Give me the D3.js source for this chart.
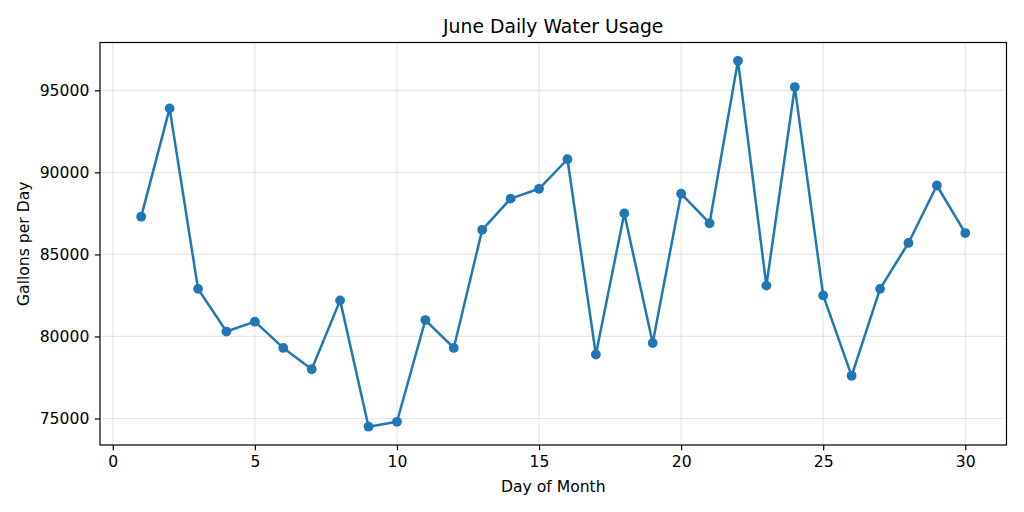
<!DOCTYPE html>
<html>
<head>
<meta charset="utf-8">
<script src="https://cdn.jsdelivr.net/npm/d3@7"></script>
<style>
    html, body { margin: 0; padding: 0; background: #fff; }
    svg { display: block; font-family: "DejaVu Sans", sans-serif; }
    .tick text { fill: #000; }
</style>
</head>
<body>
<svg id="chart" width="1024" height="512"></svg>
<script>
// chart data
var days = [1, 2, 3, 4, 5, 6, 7, 8, 9, 10, 11, 12, 13, 14, 15,
            16, 17, 18, 19, 20, 21, 22, 23, 24, 25, 26, 27, 28, 29, 30];
var gallons = [87300, 93900, 82900, 80300, 80900, 79300, 78000, 82200, 74500, 74800,
               81000, 79300, 86500, 88400, 89000, 90800, 78900, 87500, 79600, 88700,
               86900, 96800, 83100, 95200, 82500, 77600, 82900, 85700, 89200, 86300];
var xTicks = [0, 5, 10, 15, 20, 25, 30];
var yTicks = [75000, 80000, 85000, 90000, 95000];

var title = 'June Daily Water Usage',
    xLabel = 'Day of Month',
    yLabel = 'Gallons per Day';

(function () {

    var margin = { left: 100, right: 1024 - 1006.5, top: 42.5, bottom: 512 - 445 },
        width = 1024 - margin.left - margin.right,
        height = 512 - margin.top - margin.bottom,
        color = '#1f77b4',
        tickFont = '15.6px';

    // matplotlib-like 5% padding around the data
    function padded(values) {
        var ext = d3.extent(values),
            pad = (ext[1] - ext[0]) * 0.05;
        return [ext[0] - pad, ext[1] + pad];
    }

    var x = d3.scaleLinear().domain(padded(days)).range([0, width]),
        y = d3.scaleLinear().domain(padded(gallons)).range([height, 0]);

    var $svg = d3.select('#chart'),
        $plot = $svg.append('g')
            .attr('transform', 'translate(' + margin.left + ',' + margin.top + ')');

    // grid
    var $grid = $plot.append('g').classed('grid', true);
    $grid.selectAll('line.gx')
        .data(xTicks)
        .enter()
        .append('line')
        .attr('x1', function (d) { return x(d); })
        .attr('x2', function (d) { return x(d); })
        .attr('y1', 0)
        .attr('y2', height)
        .attr('stroke', '#b0b0b0')
        .attr('stroke-opacity', 0.3)
        .attr('stroke-width', 1.2);
    $grid.selectAll('line.gy')
        .data(yTicks)
        .enter()
        .append('line')
        .attr('x1', 0)
        .attr('x2', width)
        .attr('y1', function (d) { return y(d); })
        .attr('y2', function (d) { return y(d); })
        .attr('stroke', '#b0b0b0')
        .attr('stroke-opacity', 0.3)
        .attr('stroke-width', 1.2);

    // series
    var line = d3.line()
        .x(function (d, i) { return x(days[i]); })
        .y(function (d) { return y(d); });

    $plot.append('path')
        .datum(gallons)
        .attr('d', line)
        .attr('fill', 'none')
        .attr('stroke', color)
        .attr('stroke-width', 2.5)
        .attr('stroke-linejoin', 'round')
        .attr('stroke-linecap', 'round');

    $plot.selectAll('circle.point')
        .data(gallons)
        .enter()
        .append('circle')
        .classed('point', true)
        .attr('cx', function (d, i) { return x(days[i]); })
        .attr('cy', function (d) { return y(d); })
        .attr('r', 4.9)
        .attr('fill', color);

    // axes
    var $xAxis = $plot.append('g')
        .attr('transform', 'translate(0,' + height + ')')
        .call(d3.axisBottom(x).tickValues(xTicks).tickSize(5.2).tickPadding(6).tickFormat(d3.format('d')));
    var $yAxis = $plot.append('g')
        .call(d3.axisLeft(y).tickValues(yTicks).tickSize(5.2).tickPadding(5.5).tickFormat(d3.format('d')));

    [$xAxis, $yAxis].forEach(function ($axis) {
        $axis.select('.domain').remove();
        $axis.selectAll('.tick line').attr('stroke', '#000').attr('stroke-width', 1.2);
        $axis.selectAll('.tick text')
            .attr('font-size', tickFont)
            .attr('font-family', '"DejaVu Sans", sans-serif');
    });

    // frame
    $plot.append('rect')
        .attr('width', width)
        .attr('height', height)
        .attr('fill', 'none')
        .attr('stroke', '#000')
        .attr('stroke-width', 1.2);

    // texts
    $svg.append('text')
        .attr('x', margin.left + width / 2)
        .attr('y', 33)
        .attr('text-anchor', 'middle')
        .attr('font-size', '18.8px')
        .text(title);

    $svg.append('text')
        .attr('x', margin.left + width / 2)
        .attr('y', 492)
        .attr('text-anchor', 'middle')
        .attr('font-size', tickFont)
        .text(xLabel);

    $svg.append('text')
        .attr('transform', 'translate(29,' + (margin.top + height / 2) + ') rotate(-90)')
        .attr('text-anchor', 'middle')
        .attr('font-size', tickFont)
        .text(yLabel);

})();
</script>
</body>
</html>
